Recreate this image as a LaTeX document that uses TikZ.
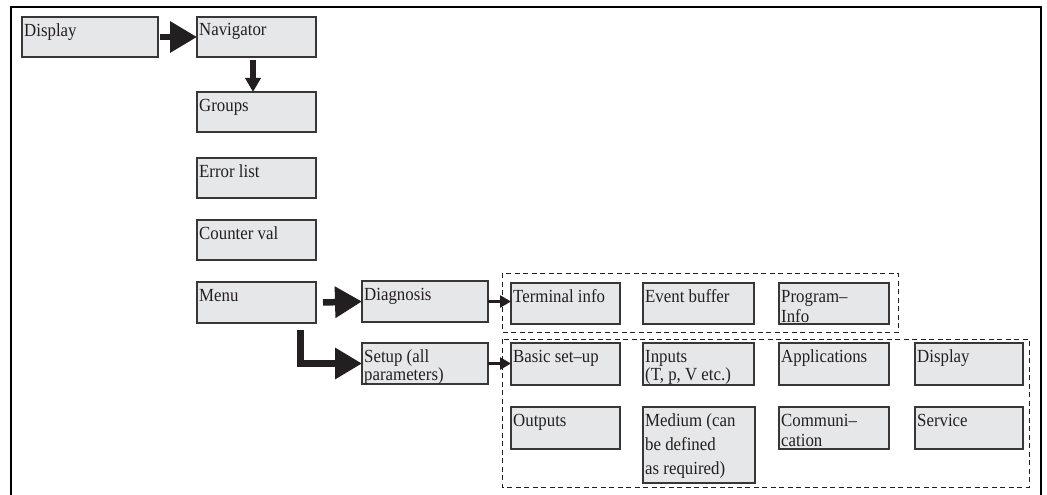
\documentclass[tikz,border=0pt]{standalone}
\usepackage{fontspec}
\setmainfont{Liberation Serif}[FakeStretch=0.91]
\usetikzlibrary{arrows.meta}

\definecolor{boxfill}{RGB}{230,231,232}
\definecolor{boxline}{RGB}{55,55,55}
\definecolor{ink}{RGB}{35,31,32}

\tikzset{
  ebox/.style={draw=boxline, fill=boxfill, line width=1.1pt, inner sep=0pt, outer sep=0pt},
  etext/.style={anchor=north west, align=left, inner xsep=2pt, inner ysep=6pt,
    text=ink, font=\fontsize{18.5}{18.5}\selectfont},
  bigarrow/.style={draw=ink, line width=6.5pt, line join=miter,
    -{Triangle[length=27pt,width=30pt]}},
  downarrow/.style={draw=ink, line width=6pt, -{Triangle[length=14pt,width=15pt]}},
  smallarrow/.style={draw=ink, line width=2.5pt, -{Triangle[length=11pt,width=12pt]}},
  groupframe/.style={draw=ink, line width=0.9pt, dash pattern=on 5pt off 3.5pt},
  outerframe/.style={draw=black, line width=2.2pt}
}

% \menubox{name}{x1}{y1}{x2}{y2}{text}: grey box with its label in the top left corner
\newcommand{\menubox}[6]{%
  \node[ebox, anchor=north west, minimum width={#4pt-#2pt}, minimum height={#5pt-#3pt}]
    (#1) at (#2,#3) {};
  \node[etext] (#1-t) at (#1.north west) {\rule{0pt}{12.8pt}#6};
}

\begin{document}
\begin{tikzpicture}[x=1pt, y=-1pt]
  \useasboundingbox (0,0) rectangle (1047,495);

  % open frame (no bottom edge)
  \draw[outerframe] (11,495) -- (11,7) -- (1041,7) -- (1041,495);

  % main column
  \menubox{disp}{22}{17}{158}{57}{Display}
  \menubox{nav}{197}{17}{316}{57}{Navigator}
  \menubox{groups}{197}{92}{316}{132}{Groups}
  \menubox{errl}{197}{158}{316}{198}{Error list}
  \menubox{count}{197}{220}{316}{260}{Counter val}
  \menubox{menu}{197}{282}{316}{323}{Menu}

  % menu branches
  \menubox{diag}{362}{281}{488}{322}{Diagnosis}
  \menubox{setup}{362}{343}{488}{384}{Setup (all\\parameters)}

  % diagnosis items
  \menubox{term}{511}{283}{620}{324}{Terminal info}
  \menubox{event}{643}{283}{754}{324}{Event buffer}
  \menubox{prog}{779}{283}{889}{324}{Program–\\[1.5pt]Info}

  % setup items
  \menubox{basic}{511}{343}{620}{385}{Basic set–up}
  \menubox{inputs}{643}{343}{754}{385}{Inputs\\(T, p, V etc.)}
  \menubox{appl}{779}{343}{889}{385}{Applications}
  \menubox{dispb}{915}{343}{1023}{385}{Display}
  \menubox{outp}{511}{407}{620}{449}{Outputs}
  \menubox{medium}{643}{407}{755}{483}{Medium (can\\[5.5pt]be defined\\[5.5pt]as required)}
  \menubox{comm}{779}{407}{889}{449}{Communi–\\[1.5pt]cation}
  \menubox{serv}{915}{407}{1023}{449}{Service}

  % dashed groups
  \draw[groupframe] (502,273) rectangle (898,332);
  \draw[groupframe] (502,339) rectangle (1029,487);

  % connectors
  \draw[bigarrow] ([xshift=2pt]disp.east) -- (nav.west);
  \draw[downarrow] ([xshift=-3.5pt,yshift=-3pt]nav.south) -- ([xshift=-3.5pt]groups.north);
  \draw[bigarrow] ([xshift=7pt]menu.east) -- (diag.west);
  \draw[bigarrow] ([xshift=-15.5pt,yshift=-7pt]menu.south east) |- (setup.west);
  \draw[smallarrow] (diag.east) -- (diag.east -| term.west);
  \draw[smallarrow] (setup.east) -- (setup.east -| basic.west);
\end{tikzpicture}
\end{document}
